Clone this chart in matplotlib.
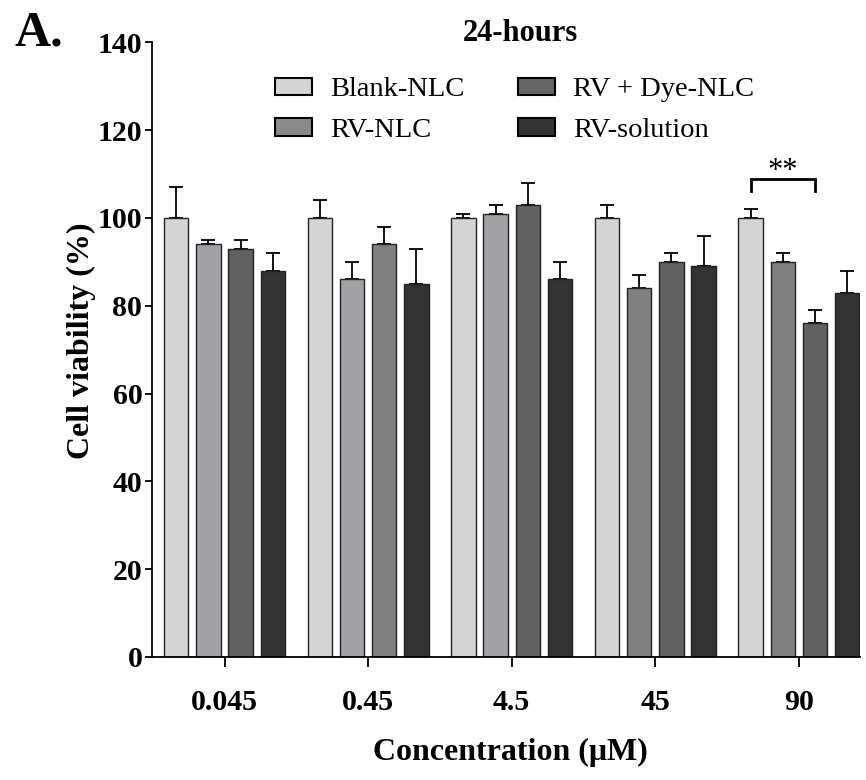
import numpy as np
import matplotlib
matplotlib.use('Agg')
from matplotlib import pyplot as plt
from matplotlib.patches import Patch

plt.rcParams['font.family'] = 'Liberation Serif'

concentrations = ['0.045', '0.45', '4.5', '45', '90']
series = ['Blank-NLC', 'RV-NLC', 'RV + Dye-NLC', 'RV-solution']

blank_nlc = [100, 100, 100, 100, 100]
rv_nlc = [94, 86, 101, 84, 90]
rv_dye_nlc = [93, 94, 103, 90, 76]
rv_solution = [88, 85, 86, 89, 83]

blank_err = [7, 4, 1, 3, 2]
rv_nlc_err = [1, 4, 2, 3, 2]
rv_dye_err = [2, 4, 5, 2, 3]
rv_solution_err = [4, 8, 4, 7, 5]

values = [blank_nlc, rv_nlc, rv_dye_nlc, rv_solution]
errors = [blank_err, rv_nlc_err, rv_dye_err, rv_solution_err]

# the original figure shades some bars a little differently than its legend
legend_colors = ['#d4d4d4', '#8a8a8a', '#666666', '#333333']
bar_colors = [
    ['#d4d4d4'] * 5,
    ['#a2a2a6', '#a2a2a6', '#a2a2a6', '#808080', '#808080'],
    ['#606060', '#808080', '#606060', '#606060', '#606060'],
    ['#333333'] * 5,
]

fig = plt.figure(figsize=(8.66, 7.8), dpi=100)
ax = fig.add_axes([0.1755, 0.1577, 0.8175, 0.788])

x = np.arange(len(concentrations))
width = 0.17
pitch = 0.224

for i in range(len(series)):
    pos = x + (i - 1.5) * pitch
    ax.bar(pos, values[i], width, color=bar_colors[i], edgecolor='#222222',
           linewidth=1.0, zorder=2)
    ax.errorbar(pos, values[i], yerr=[np.zeros(len(pos)), errors[i]],
                fmt='none', ecolor='black', elinewidth=1.3, capsize=5,
                capthick=1.3, zorder=1)

# significance bracket between Blank-NLC and RV + Dye-NLC at 90 uM
x1 = x[4] + (0 - 1.5) * pitch
x2 = x[4] + (2 - 1.5) * pitch
ax.plot([x1, x1, x2, x2], [106.1, 108.8, 108.8, 106.1], color='black', lw=2,
        solid_joinstyle='miter')
ax.text((x1 + x2) / 2, 108.8, '**', ha='center', va='baseline', fontsize=22)

ax.set_xlim(-0.505, 4.425)
ax.set_ylim(0, 140)
ax.set_yticks(range(0, 141, 20))
ax.set_xticks(x)
ax.set_xticklabels(concentrations)
for lab in ax.get_xticklabels() + ax.get_yticklabels():
    lab.set_fontweight('bold')
    lab.set_fontsize(21.5)

ax.spines['top'].set_visible(False)
ax.spines['right'].set_visible(False)
ax.spines['left'].set_linewidth(1.3)
ax.spines['bottom'].set_linewidth(1.3)
ax.tick_params(axis='x', width=1.3, length=7, pad=16)
ax.tick_params(axis='y', width=1.3, length=5, pad=2)

ax.set_ylabel('Cell viability (%)', fontsize=23, fontweight='bold')
ax.yaxis.set_label_coords(-0.079, 0.514)
ax.text(0.5056, -0.1545, 'Concentration (\u03bcM)', transform=ax.transAxes,
        ha='center', va='center', fontsize=23, fontweight='bold')
ax.text(0.521, 1.015, '24-hours', transform=ax.transAxes, ha='center',
        va='center', fontsize=22, fontweight='bold')

handles = [Patch(facecolor=legend_colors[i], edgecolor='black', linewidth=1.5)
           for i in range(len(series))]
ax.legend(handles, series, ncol=2, frameon=False, fontsize=20.5,
          loc='upper left', bbox_to_anchor=(0.1737, 0.943),
          borderaxespad=0, borderpad=0, handlelength=1.3, handleheight=0.55,
          handletextpad=0.63, columnspacing=1.9, labelspacing=0.55)

fig.text(0.0173, 1 - 45 / 780, 'A.', fontsize=36, fontweight='bold',
         va='baseline')

fig.savefig('out.png', dpi=100)
